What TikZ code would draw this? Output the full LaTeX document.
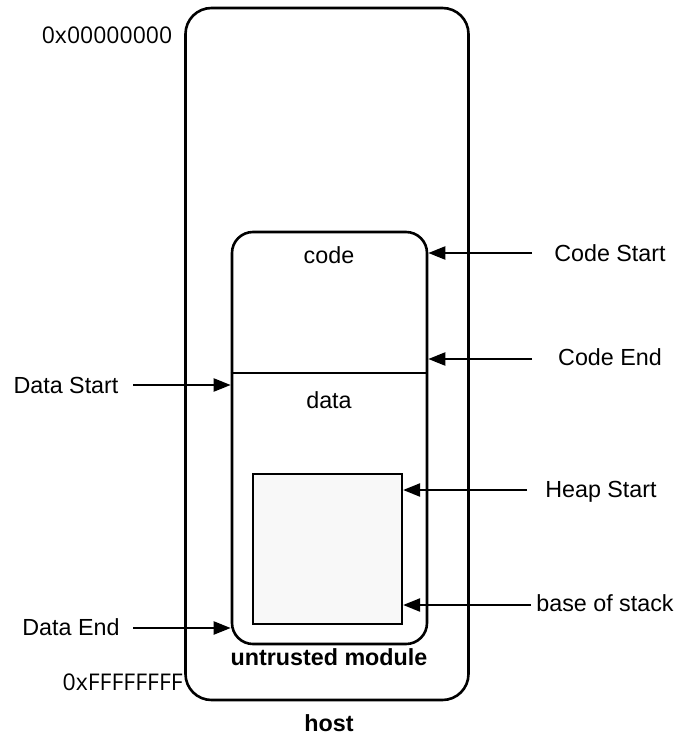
\documentclass[tikz,border=0pt]{standalone}
\usepackage{fontspec}
\setmainfont{Liberation Sans}
\newfontfamily\hexfont{Open Sans}
\usetikzlibrary{arrows.meta}
\begin{document}
\begin{tikzpicture}[x=1pt,y=-1pt,
  box/.style={draw=black, line width=2.6pt, inner sep=0pt},
  arr/.style={line width=2.2pt, -{Triangle[length=17pt,width=13pt]}},
  lbl/.style={inner sep=0pt, font=\fontsize{23.3}{27}\selectfont},
  blbl/.style={lbl, font=\fontsize{23.3}{27}\selectfont\bfseries},
  hex/.style={inner sep=0pt, font=\fontsize{23}{27}\selectfont\hexfont}]
\useasboundingbox (0,0) rectangle (680,736);
% boxes
\node[box, rounded corners=26pt, minimum width=283pt, minimum height=692pt] (host) at (327,354) {};
\node[box, rounded corners=21pt, minimum width=195pt, minimum height=412pt] (module) at (329.5,438) {};
\coordinate (divL) at (module.west |- 0,373);
\coordinate (divR) at (module.east |- 0,373);
\draw[line width=2.6pt] (divL) -- (divR);
\node[draw=black, line width=2.2pt, fill={rgb,255:red,248;green,248;blue,248}, minimum width=149pt, minimum height=150pt, inner sep=0pt] (heap) at (327.5,549) {};
% inner labels
\node[lbl, anchor=base] (code) at (329,263) {code};
\node[lbl, anchor=base] (data) at (329,408) {data};
\node[blbl, anchor=base] (um) at (329,665) {untrusted module};
\node[blbl, anchor=base] (hostlbl) at (329,731) {host};
\node[hex, anchor=base] (lo) at (107,43) {0x00000000};
\node[hex, anchor=base east] (hi) at (183,690) {0xFFFFFFFF};
% right labels and arrows
\node[lbl, anchor=base] (cs) at (610,261) {Code Start};
\node[lbl, anchor=base] (ce) at (610,365) {Code End};
\node[lbl, anchor=base] (hs) at (601,497) {Heap Start};
\node[lbl, anchor=base] (bs) at (605,611) {base of stack};
\node[lbl, anchor=base] (ds) at (66,393) {Data Start};
\node[lbl, anchor=base] (de) at (71,635) {Data End};
\coordinate (csT) at (532,253);
\coordinate (ceT) at (532,359);
\coordinate (hsT) at (527,490);
\coordinate (bsT) at (531,605);
\coordinate (dsT) at (133,385);
\coordinate (deT) at (133,628);
\draw[arr] (csT) -- (csT -| module.east);
\draw[arr] (ceT) -- (ceT -| module.east);
\draw[arr] (hsT) -- (hsT -| heap.east);
\draw[arr] (bsT) -- (bsT -| heap.east);
\draw[arr] (dsT) -- (dsT -| module.west);
\draw[arr] (deT) -- (deT -| module.west);
\end{tikzpicture}
\end{document}
